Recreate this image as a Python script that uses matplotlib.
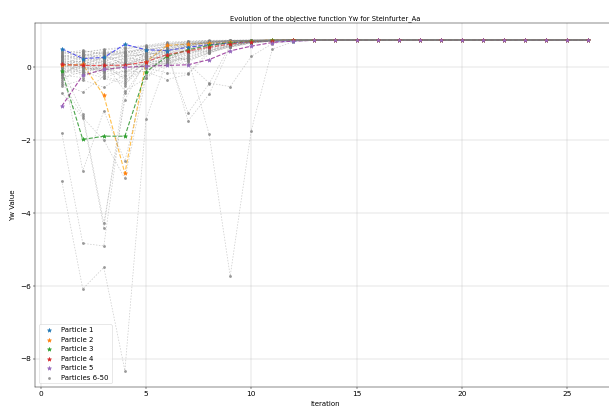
import matplotlib
matplotlib.use("Agg")
import matplotlib.pyplot as plt

iterations = list(range(1, 27))

particle_1 = [0.51, 0.24, 0.27, 0.63, 0.48, 0.46, 0.55, 0.62, 0.67, 0.70, 0.72, 0.73, 0.74,
              0.745, 0.748, 0.75, 0.75, 0.75, 0.75, 0.75, 0.75, 0.75, 0.75, 0.75, 0.75, 0.75]
particle_2 = [0.05, 0.08, -0.77, -2.91, 0.15, 0.60, 0.64, 0.66, 0.69, 0.72, 0.755, 0.757, 0.758,
              0.758, 0.758, 0.758, 0.758, 0.758, 0.758, 0.758, 0.758, 0.758, 0.758, 0.758, 0.758, 0.758]
particle_3 = [-0.10, -1.98, -1.89, -1.89, -0.13, 0.30, 0.48, 0.60, 0.68, 0.72, 0.74, 0.745, 0.75,
              0.75, 0.75, 0.75, 0.75, 0.75, 0.75, 0.75, 0.75, 0.75, 0.75, 0.75, 0.75, 0.75]
particle_4 = [0.08, 0.05, 0.05, 0.06, 0.15, 0.35, 0.45, 0.55, 0.64, 0.70, 0.73, 0.745, 0.75,
              0.75, 0.75, 0.75, 0.75, 0.75, 0.75, 0.75, 0.75, 0.75, 0.75, 0.75, 0.75, 0.75]
particle_5 = [-1.07, -0.22, -0.06, 0.00, 0.03, 0.05, 0.07, 0.21, 0.45, 0.58, 0.68, 0.72, 0.74,
              0.75, 0.75, 0.75, 0.75, 0.75, 0.75, 0.75, 0.75, 0.75, 0.75, 0.75, 0.75, 0.75]

# Particles 6-50: iterations 1-13, then the common converged tail (iterations 14-26)
others_head = [
    [0.42, 0.30, 0.45, 0.40, 0.55, 0.62, 0.68, 0.71, 0.73, 0.74, 0.745, 0.75, 0.75],
    [0.38, 0.47, 0.35, 0.50, 0.58, 0.66, 0.70, 0.73, 0.74, 0.745, 0.75, 0.75, 0.75],
    [0.33, 0.20, 0.40, 0.30, 0.45, 0.60, 0.67, 0.71, 0.73, 0.74, 0.745, 0.75, 0.75],
    [0.30, 0.38, 0.22, 0.45, 0.50, 0.55, 0.65, 0.70, 0.72, 0.74, 0.745, 0.75, 0.75],
    [0.27, 0.10, 0.30, 0.20, 0.40, 0.52, 0.62, 0.69, 0.72, 0.74, 0.745, 0.75, 0.75],
    [0.25, 0.33, 0.15, 0.35, 0.30, 0.48, 0.60, 0.68, 0.72, 0.73, 0.745, 0.75, 0.75],
    [0.22, 0.05, 0.28, 0.10, 0.35, 0.45, 0.58, 0.66, 0.71, 0.73, 0.74, 0.75, 0.75],
    [0.20, 0.28, 0.10, 0.25, 0.20, 0.40, 0.55, 0.65, 0.70, 0.73, 0.74, 0.75, 0.75],
    [0.17, 0.15, 0.35, 0.05, 0.28, 0.38, 0.52, 0.64, 0.70, 0.73, 0.74, 0.745, 0.75],
    [0.15, 0.00, 0.20, 0.30, 0.15, 0.35, 0.50, 0.62, 0.69, 0.72, 0.74, 0.745, 0.75],
    [0.12, 0.25, 0.05, 0.15, 0.42, 0.30, 0.48, 0.60, 0.68, 0.72, 0.74, 0.745, 0.75],
    [0.10, -0.05, 0.18, -0.05, 0.25, 0.28, 0.45, 0.58, 0.67, 0.72, 0.74, 0.745, 0.75],
    [0.08, 0.18, 0.00, 0.22, 0.10, 0.25, 0.42, 0.57, 0.66, 0.71, 0.735, 0.745, 0.75],
    [0.05, -0.10, 0.12, 0.00, 0.32, 0.22, 0.40, 0.55, 0.65, 0.71, 0.735, 0.745, 0.75],
    [0.03, 0.12, -0.08, 0.12, 0.05, 0.20, 0.38, 0.53, 0.64, 0.70, 0.73, 0.745, 0.75],
    [0.00, 0.08, 0.25, -0.15, 0.18, 0.15, 0.35, 0.52, 0.63, 0.70, 0.73, 0.745, 0.75],
    [-0.03, -0.15, 0.05, 0.18, 0.00, 0.12, 0.30, 0.50, 0.62, 0.69, 0.73, 0.74, 0.75],
    [-0.06, 0.02, -0.12, 0.08, 0.22, 0.10, 0.28, 0.48, 0.60, 0.69, 0.73, 0.74, 0.75],
    [-0.10, -0.20, 0.08, -0.25, 0.12, 0.08, 0.25, 0.46, 0.59, 0.68, 0.72, 0.74, 0.75],
    [-0.14, -0.08, -0.02, 0.15, -0.05, 0.18, 0.22, 0.45, 0.58, 0.68, 0.72, 0.74, 0.75],
    [-0.18, 0.15, -0.20, -0.10, 0.08, 0.30, 0.20, 0.42, 0.57, 0.67, 0.72, 0.74, 0.75],
    [-0.22, -0.28, 0.02, -0.30, 0.15, 0.05, 0.18, 0.40, 0.56, 0.67, 0.72, 0.74, 0.75],
    [-0.26, 0.22, -0.15, 0.05, 0.35, 0.42, 0.15, 0.41, 0.55, 0.66, 0.71, 0.735, 0.75],
    [-0.30, -0.12, -0.30, -0.45, 0.02, 0.20, 0.45, 0.44, 0.60, 0.68, 0.72, 0.74, 0.75],
    [-0.36, 0.05, 0.15, -0.65, -0.30, 0.10, 0.35, 0.58, 0.66, 0.71, 0.73, 0.745, 0.75],
    [0.45, 0.40, 0.50, 0.55, 0.60, 0.69, 0.72, 0.74, 0.745, 0.75, 0.75, 0.75, 0.75],
    [0.36, 0.42, 0.48, 0.52, 0.57, 0.64, 0.71, 0.735, 0.74, 0.75, 0.75, 0.75, 0.75],
    [-0.45, -0.68, -0.25, -0.40, 0.18, 0.32, 0.50, 0.62, 0.69, 0.72, 0.74, 0.745, 0.75],
    [0.28, 0.44, 0.38, 0.42, 0.48, 0.58, 0.66, 0.70, 0.73, 0.74, 0.75, 0.75, 0.75],
    [0.02, 0.35, 0.30, 0.38, 0.52, 0.64, 0.69, 0.72, 0.735, 0.745, 0.75, 0.75, 0.75],
    [-0.08, 0.30, 0.42, 0.35, 0.45, 0.56, 0.64, 0.70, 0.73, 0.74, 0.75, 0.75, 0.75],
    [0.18, -0.02, -0.05, 0.28, 0.38, 0.50, 0.63, 0.69, 0.72, 0.74, 0.745, 0.75, 0.75],
    [-0.50, -0.35, -0.55, -0.20, 0.25, 0.45, 0.58, 0.67, 0.71, 0.735, 0.745, 0.75, 0.75],
    [-3.11, -6.08, -5.49, -8.32, -1.42, 0.20, 0.50, 0.64, 0.70, 0.73, 0.74, 0.745, 0.75],
    [-1.79, -4.83, -4.90, -0.70, 0.10, 0.45, 0.60, 0.68, 0.72, 0.74, 0.745, 0.75, 0.75],
    [0.00, -1.27, -4.27, -0.90, 0.20, 0.50, 0.62, 0.69, 0.73, 0.74, 0.745, 0.75, 0.75],
    [-0.40, -1.34, -4.40, -0.50, 0.30, 0.55, 0.65, 0.70, 0.73, 0.74, 0.745, 0.75, 0.75],
    [0.12, -2.84, -1.20, -2.57, -0.20, 0.40, 0.60, 0.68, 0.72, 0.74, 0.745, 0.75, 0.75],
    [-0.70, -1.38, -2.00, -3.05, -0.30, 0.35, 0.58, 0.67, 0.72, 0.74, 0.745, 0.75, 0.75],
    [0.20, 0.35, 0.40, 0.45, 0.30, 0.20, 0.25, -1.84, -5.73, -1.74, 0.50, 0.70, 0.74],
    [0.32, 0.26, 0.33, 0.40, 0.48, 0.45, -1.47, -0.74, 0.55, 0.68, 0.73, 0.745, 0.75],
    [0.06, 0.18, 0.24, 0.30, 0.36, 0.40, -1.25, -0.45, 0.60, 0.70, 0.73, 0.745, 0.75],
    [-0.12, 0.00, -0.10, 0.10, 0.05, 0.12, 0.10, -0.43, -0.53, 0.30, 0.65, 0.72, 0.745],
    [0.14, -0.18, 0.10, -0.35, 0.00, -0.16, -0.16, 0.45, 0.62, 0.70, 0.73, 0.745, 0.75],
    [-0.20, 0.10, -0.28, -0.10, -0.12, -0.34, -0.19, 0.38, 0.60, 0.69, 0.73, 0.745, 0.75],
]
others_tail = [0.748, 0.749, 0.75, 0.75, 0.75, 0.75, 0.75, 0.75, 0.75, 0.75, 0.75, 0.75, 0.75]

highlighted = [particle_1, particle_2, particle_3, particle_4, particle_5]
labels = ["Particle 1", "Particle 2", "Particle 3", "Particle 4", "Particle 5"]
line_colors = ["blue", "orange", "green", "red", "purple"]
marker_colors = ["#1f77b4", "#ff7f0e", "#2ca02c", "#d62728", "#9467bd"]

fig = plt.figure(figsize=(15, 10.148), dpi=40.6)
ax = fig.add_axes([0.0581, 0.0607, 0.951, 0.883])

for values, label, lc, mc in zip(highlighted, labels, line_colors, marker_colors):
    ax.plot(iterations, values, linestyle="--", color=lc, alpha=0.7, linewidth=2)
    ax.scatter(iterations, values, marker="*", s=55, color=mc, label=label, zorder=3)

for i, head in enumerate(others_head):
    values = head + others_tail
    ax.plot(iterations, values, linestyle=(0, (2, 2)), color="gray", alpha=0.4, linewidth=1.3)
    ax.scatter(iterations, values, marker="o", s=14, color="gray", alpha=0.8,
               label="Particles 6-50" if i == 0 else None, zorder=2)

ax.set_xlim(-0.25, 27.25)
ax.set_ylim(-8.77, 1.21)
ax.set_title("Evolution of the objective function Yw for Steinfurter_Aa", fontsize=12)
ax.set_xlabel("Iteration", fontsize=12.5, labelpad=7)
ax.set_ylabel("Yw Value", fontsize=12.5, labelpad=8)
ax.tick_params(labelsize=13)
ax.grid(True, alpha=0.7)
ax.legend(loc="lower left", fontsize=12.5)

fig.savefig("out.png", dpi=40.6)
